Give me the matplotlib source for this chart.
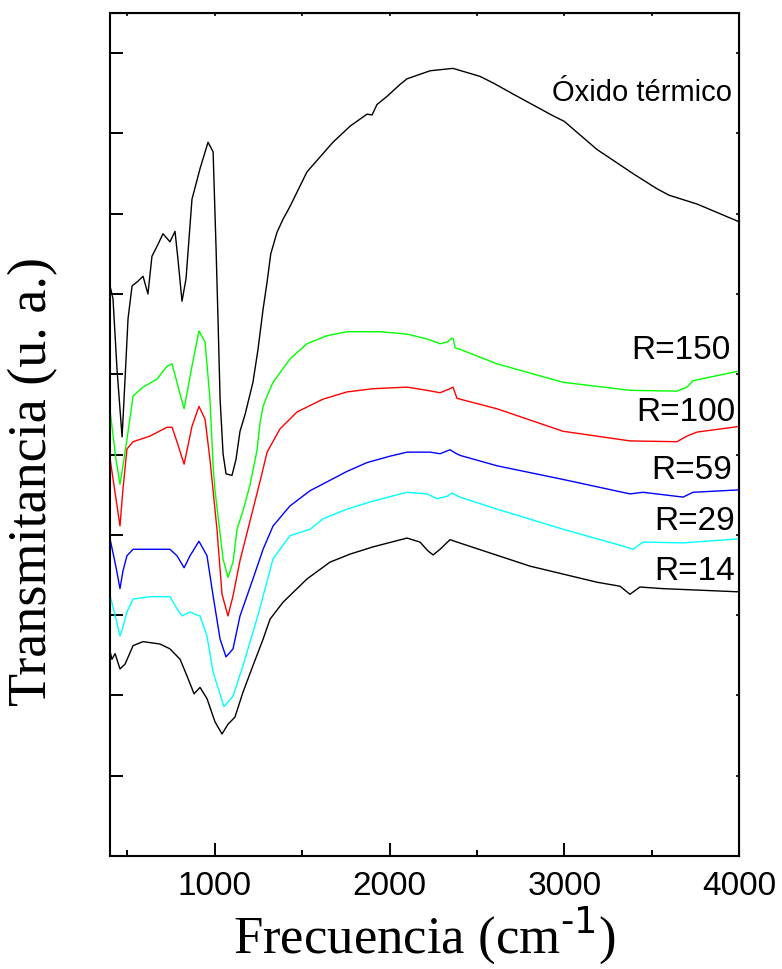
import matplotlib.pyplot as plt
from matplotlib.ticker import MultipleLocator

# FTIR spectra, wavenumber (cm-1) vs transmittance (arbitrary units, offset)
ox_wn = [400, 417, 440, 469, 486, 503, 526, 555, 589, 617, 640, 675, 703, 743, 772, 789, 812, 835, 869, 915,
         961, 990, 1007, 1018, 1030, 1047, 1064, 1098, 1121, 1144, 1173, 1218, 1247, 1276, 1299, 1320, 1356, 1390,
         1430, 1527, 1676, 1774, 1871, 1900, 1928, 1985, 2060, 2100, 2232, 2363, 2518, 2600, 2707, 2935, 3000,
         3187, 3400, 3531, 3600, 3760, 4000]
ox_t = [7.10, 6.94, 6.06, 5.22, 5.94, 6.69, 7.10, 7.15, 7.22, 7.00, 7.47, 7.62, 7.75, 7.65, 7.78, 7.43, 6.91, 7.19, 8.18, 8.56,
        8.89, 8.77, 7.56, 6.69, 5.69, 5.01, 4.76, 4.74, 4.94, 5.29, 5.50, 5.90, 6.31, 6.81, 7.15, 7.50, 7.77, 7.93,
        8.09, 8.52, 8.89, 9.09, 9.24, 9.23, 9.36, 9.46, 9.61, 9.68, 9.78, 9.81, 9.71, 9.62, 9.49, 9.22, 9.15,
        8.80, 8.49, 8.31, 8.23, 8.12, 7.90]

r150_wn = [400, 434, 457, 474, 497, 532, 589, 669, 726, 755, 789, 824, 869, 909, 944, 972, 990, 1001, 1047, 1075,
           1104, 1127, 1161, 1201, 1241, 1259, 1276, 1299, 1333, 1430, 1527, 1642, 1756, 1945, 2100, 2214, 2289,
           2329, 2357, 2365, 2375, 2403, 2615, 2993, 3376, 3645, 3702, 3737, 4000]
r150_t = [5.55, 4.94, 4.63, 4.86, 5.19, 5.73, 5.84, 5.94, 6.10, 6.13, 5.85, 5.57, 6.10, 6.54, 6.40, 5.69, 4.86, 4.55, 3.70, 3.47,
          3.66, 4.07, 4.30, 4.62, 5.05, 5.40, 5.60, 5.73, 5.90, 6.19, 6.38, 6.48, 6.53, 6.53, 6.50, 6.44, 6.38,
          6.40, 6.45, 6.44, 6.33, 6.31, 6.13, 5.90, 5.80, 5.79, 5.84, 5.92, 6.04]

r100_wn = [400, 434, 457, 474, 497, 532, 629, 726, 755, 783, 824, 869, 909, 944, 972, 1012, 1041, 1075, 1104, 1144,
           1201, 1259, 1299, 1373, 1470, 1619, 1756, 1905, 2100, 2214, 2289, 2346, 2363, 2386, 2615, 2993, 3376,
           3645, 3702, 3760, 4000]
r100_t = [4.95, 4.45, 4.11, 4.57, 5.07, 5.16, 5.23, 5.34, 5.34, 5.16, 4.88, 5.35, 5.60, 5.44, 4.94, 4.07, 3.26, 2.99, 3.24, 3.68,
          4.17, 4.67, 5.03, 5.32, 5.53, 5.69, 5.78, 5.82, 5.84, 5.80, 5.77, 5.82, 5.84, 5.70, 5.57, 5.29, 5.17,
          5.16, 5.23, 5.28, 5.35]

r59_wn = [400, 434, 457, 474, 497, 532, 629, 743, 783, 824, 858, 909, 955, 990, 1030, 1064, 1104, 1144, 1218, 1276,
          1333, 1430, 1545, 1642, 1756, 1871, 2003, 2100, 2232, 2289, 2346, 2375, 2403, 2615, 2993, 3376, 3451,
          3680, 3737, 4000]
r59_t = [3.95, 3.60, 3.33, 3.55, 3.74, 3.82, 3.82, 3.82, 3.74, 3.59, 3.74, 3.92, 3.74, 3.24, 2.70, 2.48, 2.58, 2.99, 3.45, 3.82,
         4.11, 4.36, 4.55, 4.66, 4.79, 4.90, 4.98, 5.03, 5.03, 5.01, 5.06, 5.02, 4.99, 4.86, 4.69, 4.51, 4.53,
         4.47, 4.53, 4.56]

r29_wn = [400, 434, 457, 474, 497, 532, 629, 743, 783, 812, 858, 886, 915, 955, 990, 1052, 1104, 1161, 1247, 1333,
          1430, 1545, 1619, 1756, 1905, 2100, 2214, 2272, 2329, 2357, 2403, 2615, 2993, 3336, 3393, 3451, 3680, 4000]
r29_t = [3.25, 2.95, 2.74, 2.85, 3.04, 3.20, 3.23, 3.23, 3.08, 2.99, 3.04, 3.01, 2.99, 2.74, 2.29, 1.86, 1.99, 2.37, 3.00, 3.70,
         3.99, 4.07, 4.20, 4.32, 4.42, 4.53, 4.51, 4.45, 4.48, 4.52, 4.47, 4.32, 4.07, 3.86, 3.82, 3.91, 3.90, 3.95]

r14_wn = [400, 411, 429, 457, 486, 532, 589, 686, 743, 801, 841, 881, 915, 955, 1001, 1041, 1075, 1115, 1161, 1218,
          1276, 1316, 1390, 1527, 1659, 1774, 1905, 2100, 2174, 2220, 2249, 2289, 2346, 2386, 2804, 3187, 3319,
          3376, 3433, 3565, 4000]
r14_t = [2.55, 2.45, 2.52, 2.33, 2.39, 2.62, 2.67, 2.64, 2.58, 2.45, 2.24, 2.02, 2.10, 1.96, 1.67, 1.52, 1.64, 1.73, 2.04, 2.37,
         2.70, 2.95, 3.16, 3.45, 3.66, 3.76, 3.85, 3.96, 3.91, 3.80, 3.75, 3.82, 3.94, 3.91, 3.61, 3.41, 3.36,
         3.26, 3.35, 3.33, 3.29]

series = [(ox_wn, ox_t, "black"), (r150_wn, r150_t, "#00ff00"), (r100_wn, r100_t, "#ff0000"),
          (r59_wn, r59_t, "#0000ff"), (r29_wn, r29_t, "#00ffff"), (r14_wn, r14_t, "black")]

labels = ["Óxido térmico", "R=150", "R=100", "R=59", "R=29", "R=14"]
label_xy = [(3960, 9.51), (3950, 6.31), (3978, 5.54), (3962, 4.81), (3978, 4.18), (3978, 3.55)]
label_size = [21, 24, 24, 24, 24, 24]

sans = "Liberation Sans"
serif = "Liberation Serif"

fig = plt.figure(figsize=(7.82, 9.70), dpi=100)
ax = fig.add_axes([0.1407, 0.1165, 0.8043, 0.8691])

for wn, t, c in series:
    ax.plot(wn, t, color=c, linewidth=1.0)

for text, (x, y), fs in zip(labels, label_xy, label_size):
    ax.text(x, y, text, ha="right", va="center", fontsize=fs, family=sans)

ax.set_xlim(400, 4000)
ax.set_ylim(0, 10.5)

# main axes: long ticks bottom/left, no y numbers
ax.set_xticks([1000, 2000, 3000, 4000])
ax.xaxis.set_minor_locator(MultipleLocator(500))
ax.set_yticks(range(1, 11))
ax.tick_params(axis="x", which="major", direction="in", length=9.5, width=1.4, pad=10, labelsize=24)
ax.tick_params(axis="x", which="minor", direction="in", length=4.5, width=1.4)
ax.tick_params(axis="y", which="major", direction="in", length=9, width=1.4, labelleft=False)
for lab in ax.get_xticklabels():
    lab.set_family(sans)
for sp in ax.spines.values():
    sp.set_linewidth(1.5)

# short mirrored ticks on top and right
top = ax.secondary_xaxis("top")
top.set_xticks(range(500, 4001, 500))
top.tick_params(direction="in", length=2.5, width=1.2, labeltop=False)
right = ax.secondary_yaxis("right")
right.set_yticks(range(1, 11))
right.tick_params(direction="in", length=2.5, width=1.2, labelright=False)

plt.rcParams["mathtext.fontset"] = "custom"
plt.rcParams["mathtext.rm"] = serif
ax.set_xlabel("Frecuencia (cm$^{\\text{-1}}$)", fontsize=38, family=serif, labelpad=2)
ax.set_ylabel("Transmitancia (u. a.)", fontsize=39, family=serif)
ax.yaxis.set_label_coords(-0.082, 0.445)

plt.savefig("out.png", dpi=100)
